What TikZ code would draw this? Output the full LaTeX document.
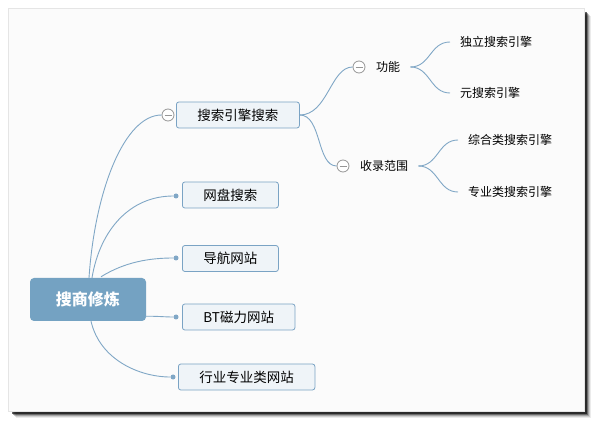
\documentclass[tikz,border=0pt]{standalone}
\usepackage{fontspec}
\setmainfont{Noto Sans CJK SC}
\usetikzlibrary{positioning, calc}

\begin{document}
\begin{tikzpicture}[x=1pt, y=-1pt, font=\fontsize{13.5}{16}\selectfont]
  % Define colors for the map
  \definecolor{rootblue}{RGB}{116, 162, 194}
  \definecolor{topicfill}{RGB}{239, 244, 248}
  \definecolor{topicline}{RGB}{122, 163, 196}
  \definecolor{branchblue}{RGB}{128, 167, 198}
  \definecolor{knobgray}{RGB}{150, 150, 150}
  \definecolor{panelgray}{RGB}{251, 251, 251}

  \tikzset{
    root/.style={fill=rootblue, text=white, rounded corners=4pt, minimum width=116pt,
      minimum height=43pt, font=\fontsize{16}{18}\selectfont\bfseries},
    topic/.style={draw=topicline, fill=topicfill, rounded corners=2.5pt, line width=0.8pt,
      minimum height=26pt, inner xsep=21pt, anchor=west},
    subtopic/.style={font=\fontsize{12}{14}\selectfont, inner xsep=10pt, anchor=west},
    branch/.style={draw=branchblue, line width=0.9pt},
    knob/.style={circle, draw=knobgray, fill=white, minimum size=12pt, inner sep=0pt, line width=0.8pt,
      path picture={\draw[knobgray, line width=0.8pt]
        ([xshift=-3.5pt]path picture bounding box.center) -- ([xshift=3.5pt]path picture bounding box.center);}},
    enddot/.style={circle, fill=branchblue, minimum size=5pt, inner sep=0pt}
  }

  \useasboundingbox (0,0) rectangle (595,422);

  % Page with shadow
  \fill[white] (0,0) rectangle (595,422);
  \foreach \s/\o in {7/0.08, 6/0.12, 5/0.2, 4/0.35, 3/0.6}
    \fill[black, opacity=\o] (9+\s,9+\s) rectangle (584+\s,411+\s);
  \draw[black!10, line width=1.5pt] (9,9) rectangle (584,411);
  \fill[panelgray] (9,9) rectangle (584,411);

  % Central topic
  \node[root] (root) at (88,299.5) {搜商修炼};

  % Main topics
  \node[topic] (engine) at (176,115) {搜索引擎搜索};
  \node[topic] (netdisk) at (182,195) {网盘搜索};
  \node[topic] (navsite) at (182,258.5) {导航网站};
  \node[topic] (btsite) at (182,317) {BT磁力网站};
  \node[topic] (tradesite) at (178,377) {行业专业类网站};

  % Knobs and end dots
  \node[knob] (engineknob) at (168,115) {};
  \node[enddot] (netdiskdot) at (176,196) {};
  \node[enddot] (navdot) at (176,258) {};
  \node[enddot] (btdot) at (176,317) {};
  \node[enddot] (tradedot) at (173,377) {};

  % Branches from the central topic
  \draw[branch] ($(root.north)+(1,0)$) .. controls +(6,-88) and +(-37,0) .. (engineknob.west);
  \draw[branch] ($(root.north)+(4,0)$) .. controls +(8,-48) and +(-46,0) .. (netdiskdot);
  \draw[branch] ($(root.north)+(13,-1)$) .. controls +(24,-15) and +(-26,0) .. (navdot);
  \draw[branch] ($(root.south east)+(-1,-5)$) .. controls +(15,0) and +(-12,0) .. (btdot);
  \draw[branch] ($(root.south)+(3,0)$) .. controls +(9,39) and +(-33,0) .. (tradedot);

  % Subtopics of the search engine branch
  \node[knob] (funcknob) at (359,67) {};
  \node[subtopic] (func) at (366,67) {功能};
  \node[knob] (coverknob) at (343,166) {};
  \node[subtopic] (cover) at (350,166) {收录范围};

  \draw[branch] (engine.east) .. controls +(28,0) and +(-22,0) .. (funcknob.west);
  \draw[branch] (engine.east) .. controls +(22,0) and +(-20,0) .. (coverknob.west);

  % Leaves
  \node[subtopic] (indep) at (450,42) {独立搜索引擎};
  \node[subtopic] (meta) at (450,93) {元搜索引擎};
  \node[subtopic] (general) at (458,140) {综合类搜索引擎};
  \node[subtopic] (special) at (458,192) {专业类搜索引擎};

  \draw[branch] (func.east) .. controls +(20,0) and +(-20,0) .. (indep.west);
  \draw[branch] (func.east) .. controls +(20,0) and +(-20,0) .. (meta.west);
  \draw[branch] (cover.east) .. controls +(20,0) and +(-20,0) .. (general.west);
  \draw[branch] (cover.east) .. controls +(20,0) and +(-20,0) .. (special.west);
\end{tikzpicture}
\end{document}
